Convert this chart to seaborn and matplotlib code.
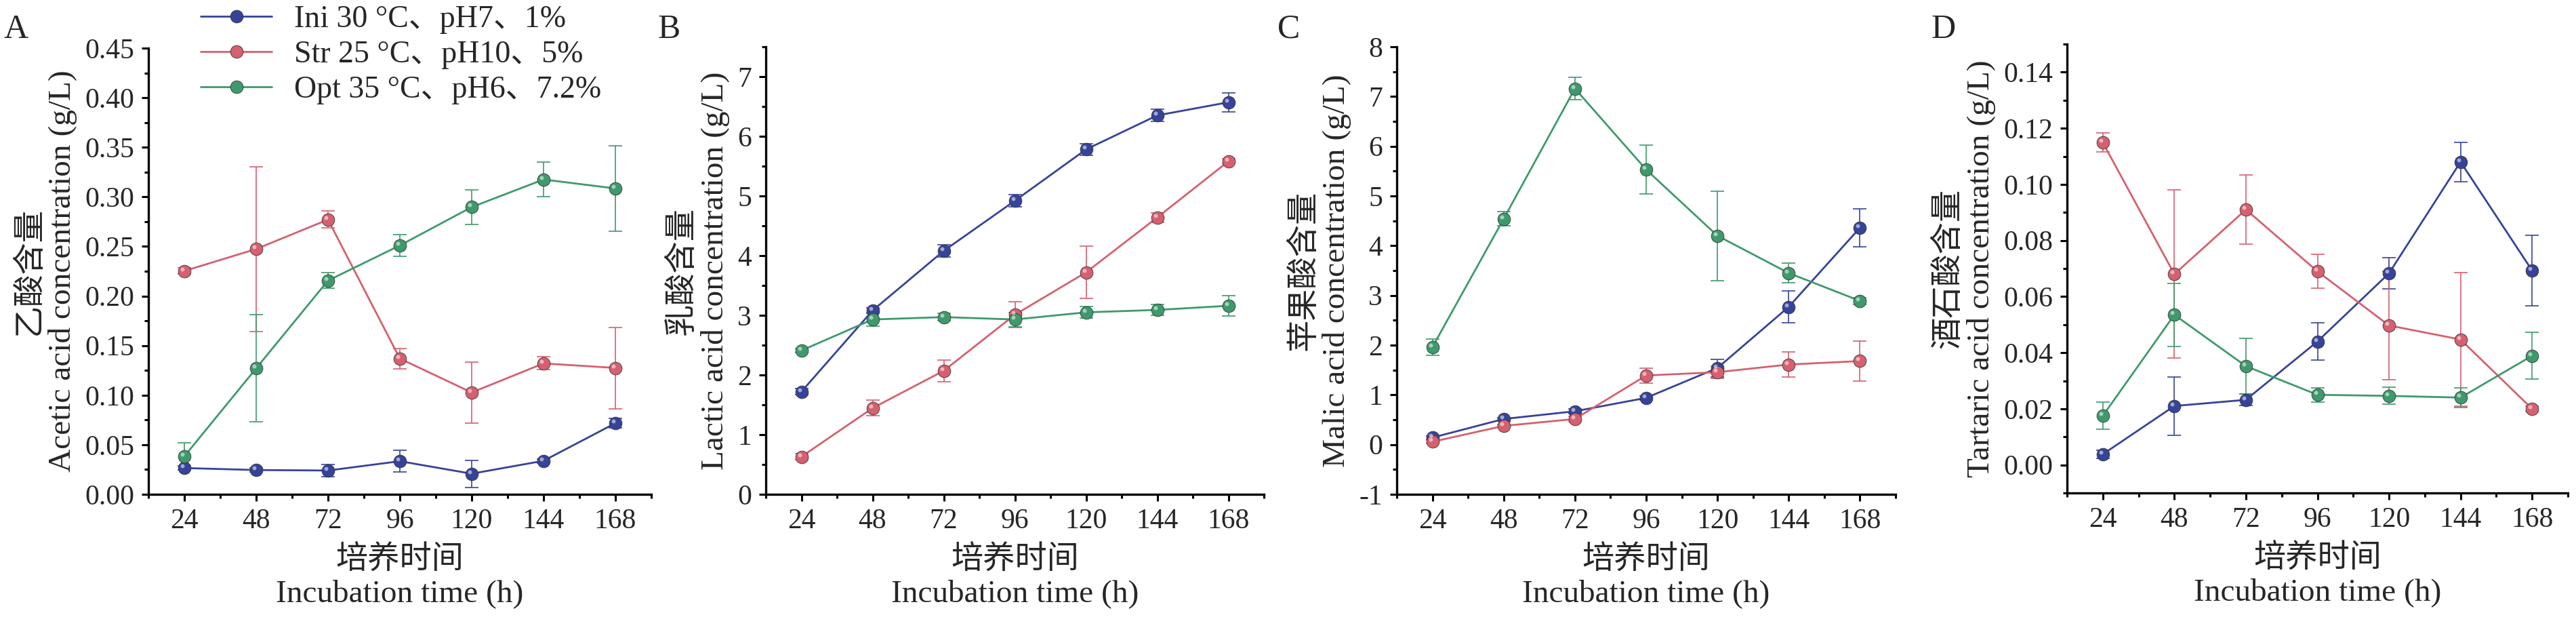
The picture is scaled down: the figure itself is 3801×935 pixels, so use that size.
import matplotlib
matplotlib.use("Agg")
import matplotlib.pyplot as plt
from matplotlib.lines import Line2D
from matplotlib.ticker import MultipleLocator, FormatStrFormatter
from matplotlib.transforms import offset_copy
import pandas as pd
import seaborn as sns

# données
hours = [24, 48, 72, 96, 120, 144, 168]
groups = ["Ini 30 °C、pH7、1%", "Str 25 °C、pH10、5%", "Opt 35 °C、pH6、7.2%"]
colors = ["#36439A", "#D6606F", "#3E9A6C"]

acetic_ini = [0.0265, 0.0245, 0.024, 0.0334, 0.0208, 0.0338, 0.0717]
acetic_ini_sd = [0.002, 0.002, 0.006, 0.011, 0.0137, 0.002, 0.005]
acetic_str = [0.2253, 0.2474, 0.2771, 0.1369, 0.1027, 0.132, 0.1275]
acetic_str_sd = [0.003, 0.083, 0.0085, 0.0104, 0.0306, 0.0065, 0.041]
acetic_opt = [0.0383, 0.1271, 0.2156, 0.251, 0.2897, 0.3175, 0.3085]
acetic_opt_sd = [0.0135, 0.054, 0.0077, 0.011, 0.0177, 0.0175, 0.043]

lactic_ini = [1.72, 3.08, 4.08, 4.92, 5.78, 6.35, 6.57]
lactic_ini_sd = [0.05, 0.05, 0.1, 0.1, 0.1, 0.1, 0.16]
lactic_str = [0.63, 1.445, 2.07, 3.01, 3.72, 4.64, 5.58]
lactic_str_sd = [0.05, 0.13, 0.18, 0.22, 0.44, 0.08, 0.04]
lactic_opt = [2.41, 2.93, 2.97, 2.93, 3.05, 3.09, 3.16]
lactic_opt_sd = [0.03, 0.11, 0.06, 0.12, 0.1, 0.09, 0.17]

malic_ini = [0.14, 0.515, 0.67, 0.94, 1.54, 2.77, 4.36]
malic_ini_sd = [0.03, 0.03, 0.05, 0.04, 0.18, 0.32, 0.38]
malic_str = [0.057, 0.376, 0.515, 1.39, 1.456, 1.61, 1.68]
malic_str_sd = [0.03, 0.03, 0.05, 0.15, 0.12, 0.25, 0.4]
malic_opt = [1.96, 4.54, 7.16, 5.53, 4.2, 3.45, 2.89]
malic_opt_sd = [0.16, 0.14, 0.22, 0.49, 0.9, 0.2, 0.07]

tartaric_ini = [0.0038, 0.021, 0.0232, 0.044, 0.0683, 0.108, 0.0693]
tartaric_ini_sd = [0.0015, 0.0104, 0.002, 0.0066, 0.0055, 0.007, 0.0125]
tartaric_str = [0.1149, 0.068, 0.091, 0.069, 0.0497, 0.0447, 0.02]
tartaric_str_sd = [0.0034, 0.030, 0.0123, 0.006, 0.0194, 0.0238, 0.001]
tartaric_opt = [0.0175, 0.0535, 0.0352, 0.025, 0.0246, 0.024, 0.0389]
tartaric_opt_sd = [0.0049, 0.0113, 0.0099, 0.0025, 0.003, 0.0035, 0.0083]


def tableau(ini, ini_sd, st, st_sd, opt, opt_sd):
    lignes = []
    for g, vals, sds in zip(groups, [ini, st, opt], [ini_sd, st_sd, opt_sd]):
        for h, v, s in zip(hours, vals, sds):
            lignes.append({"temps": h, "valeur": v, "sd": s, "groupe": g})
    return pd.DataFrame(lignes)


panels = [
    ("A", tableau(acetic_ini, acetic_ini_sd, acetic_str, acetic_str_sd,
                  acetic_opt, acetic_opt_sd),
     "乙酸含量\nAcetic acid concentration (g/L)", (0, 0.45), 0.05, 0.025, "%.2f",
     (219, 961, 729, 71), 6),
    ("B", tableau(lactic_ini, lactic_ini_sd, lactic_str, lactic_str_sd,
                  lactic_opt, lactic_opt_sd),
     "乳酸含量\nLactic acid concentration (g/L)", (0, 7.5), 1, 0.5, "%d",
     (1130, 1865, 729, 69), 971),
    ("C", tableau(malic_ini, malic_ini_sd, malic_str, malic_str_sd,
                  malic_opt, malic_opt_sd),
     "苹果酸含量\nMalic acid concentration (g/L)", (-1, 8), 1, 0.5, "%d",
     (2061, 2797, 729, 69), 1885),
    ("D", tableau(tartaric_ini, tartaric_ini_sd, tartaric_str, tartaric_str_sd,
                  tartaric_opt, tartaric_opt_sd),
     "酒石酸含量\nTartaric acid concentration (g/L)", (-0.01, 0.15), 0.02, 0.01, "%.2f",
     (3050, 3789, 727, 65), 2850),
]

sns.set_style("ticks")
plt.rcParams["font.family"] = ["Liberation Serif", "Noto Sans CJK SC"]
plt.rcParams["axes.unicode_minus"] = False

W, H = 3801, 935
fig = plt.figure(figsize=(W / 100, H / 100), dpi=100)
palette = dict(zip(groups, colors))

for lettre, df, ylab, ylim, major, minor, fmt, (l, r, b, t), lx in panels:
    ax = fig.add_axes([l / W, (H - b) / H, (r - l) / W, (b - t) / H])
    for g in groups:
        d = df[df["groupe"] == g]
        ax.errorbar(d["temps"], d["valeur"], yerr=d["sd"], fmt="none",
                    ecolor=palette[g], elinewidth=1.2, capsize=7,
                    capthick=1.2, zorder=2)
    sns.lineplot(data=df, x="temps", y="valeur", hue="groupe",
                 palette=palette, marker="o", markersize=13.5, linewidth=2.0,
                 markeredgewidth=0.6, markeredgecolor="#333333",
                 legend=False, ax=ax, zorder=3)
    # petit reflet pour l'effet "boule"
    reflet = offset_copy(ax.transData, fig=fig, x=-3, y=3, units="dots")
    ax.scatter(df["temps"], df["valeur"], s=18, color="white", alpha=0.55,
               linewidths=0, transform=reflet, zorder=4)

    ax.set_xlim(12, 180)
    ax.set_ylim(*ylim)
    ax.set_xticks(hours)
    ax.xaxis.set_minor_locator(MultipleLocator(12))
    ax.yaxis.set_major_locator(MultipleLocator(major))
    ax.yaxis.set_minor_locator(MultipleLocator(minor))
    ax.yaxis.set_major_formatter(FormatStrFormatter(fmt))
    if lettre == "D":
        ax.set_yticks([0, 0.02, 0.04, 0.06, 0.08, 0.10, 0.12, 0.14])
    if lettre == "A":
        ax.set_yticks([i * 0.05 for i in range(10)])
    ax.tick_params(axis="both", which="major", direction="out", length=7,
                   width=2.2, labelsize=30, pad=8, color="black")
    ax.tick_params(axis="both", which="minor", direction="out", length=4,
                   width=2.2, color="black")
    for s in ["top", "right"]:
        ax.spines[s].set_visible(False)
    for s in ["left", "bottom"]:
        ax.spines[s].set_linewidth(2.4)
        ax.spines[s].set_color("black")
    ax.set_xlabel("培养时间\nIncubation time (h)", fontsize=34, labelpad=12,
                  linespacing=1.15, fontweight="light")
    ax.set_ylabel(ylab, fontsize=34, labelpad=8, linespacing=1.15,
                  fontweight="light")
    fig.text(lx / W, 1 - 20 / H, lettre, fontsize=36, va="top", ha="left")

handles = [Line2D([0], [0], color=c, linewidth=2.0, marker="o", markersize=13.5,
                  markeredgewidth=0.6, markeredgecolor="#333333")
           for c in colors]
fig.legend(handles, groups, loc="upper left",
           bbox_to_anchor=(296 / W, 1 - 8 / H), frameon=False, fontsize=33,
           handlelength=2.3, handletextpad=0.7, labelspacing=0.2,
           borderaxespad=0, borderpad=0)

plt.savefig("out.png", dpi=100)
